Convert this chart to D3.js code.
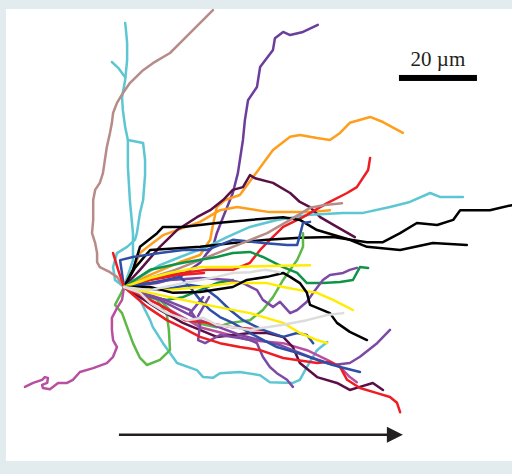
<!DOCTYPE html>
<html><head><meta charset="utf-8">
<script src="https://cdn.jsdelivr.net/npm/d3@7"></script>
<style>html,body{margin:0;padding:0;background:#e2ecee;}svg{display:block;}</style>
</head><body>
<svg id="chart" width="512" height="474"></svg>
<script>
// Cell trajectories, positions in micrometres relative to common start (x right, y up)
const brownTall=[[0,0],[-1.8,2.6],[-3.6,3.8],[-6.2,5.1],[-6.9,6.4],[-6.9,8.7],[-7.4,11.3],[-8.2,13.8],[-7.9,17.2],[-7.9,22.3],[-7.4,24.9],[-6.2,26.7],[-5.4,29.2],[-4.9,32.6],[-4.4,35.9],[-3.6,39.5],[-3.1,42.1],[-2.8,44.6],[-1.8,47.2],[-0.3,49.7],[1.5,52.3],[4.9,55.6],[7.4,57.4],[11.8,60],[14.4,62.6],[16.9,65.1],[20.3,68.5],[22.8,71]];
const brownRight=[[0,0],[6.7,2.3],[13.1,4.4],[19.5,6.9],[27.9,10.3],[36.7,13.8],[42.6,17.2],[47.7,20.3],[51.5,21],[55.9,21.5]];
const cyanTall=[[0,0],[-2.3,1.8],[-2.8,5.1],[-1.8,8.7],[0.8,10.3],[2.8,12.1],[3.3,13.8],[4.1,19],[4.9,22.3],[5.4,28.7],[5.4,32.6],[4.9,36.9],[1,37.7],[0.3,41],[-0.3,45.4],[-0.5,48.7],[0.3,53.1],[0.8,58.2],[0.8,62.6],[0.5,65.9],[0.3,67.7]];
const cyanTall2=[[0,0],[2.3,6.9],[2.3,13.8],[1.5,22.3],[1,30.8],[1,37.7]];
const cyanSpur=[[0.3,53.8],[-1.5,56.2],[-3.1,57.7]];
const cyanLow=[[0,0],[4.1,-3.3],[6.7,-8.5],[7.4,-10.3],[10,-14.4],[11.8,-16.9],[13.6,-19.5],[18.7,-21.3],[20.3,-23.1],[22.8,-23.3],[24.6,-22.1],[29.7,-21.8],[34.9,-22.6],[37.4,-24.4],[43.3,-24.6],[45.1,-23.8],[46.9,-20.5],[49.5,-16.2],[52.1,-14.1]];
const cyanRight=[[0,0],[4.1,2.6],[9.2,5.6],[14.4,7.7],[21.3,10.3],[26.4,12.8],[32.3,15.4],[39.2,17.2],[47.7,18.5],[56.2,19],[61.3,19],[68.2,20.5],[73.3,21.8],[78.5,24.1],[81,23.1],[86.9,23.1]];
const blackA=[[0,0],[2.3,4.4],[4.1,10.3],[8.5,13.8],[10,15.4],[15.1,15.4],[23.8,16.4],[32.3,17.2],[40.8,17.9],[45.1,17.2],[49.5,14.6],[57.9,12.1],[62.3,10.3],[70.8,9.5],[79.2,11.3],[87.9,10.8]];
const blackB=[[0,0],[2.8,4.9],[6.7,9.5],[19.5,10.3],[27.9,11.3],[36.7,12.1],[45.1,12.6],[53.6,12.8],[62.3,11.5],[66.4,11.5],[70.8,13.8],[75.1,16.4],[80.3,15.9],[84.4,17.2],[86.2,19.7],[93.8,19.7],[99.5,21]];
const blackC=[[0,0],[6.7,0],[12.6,-1.5],[19.5,-1.3],[27.9,0],[31.5,1.8],[36.7,2.6],[40.8,3.6],[42.6,2.6],[45.1,1],[46.9,-1.5],[47.7,-4.6],[52.8,-6.7],[54.6,-9.2],[57.9,-11.5],[62.3,-13.6]];
const orangeTall=[[0,0],[6.7,3.1],[14.4,6.4],[19.5,8.2],[22.1,12.1],[22.8,15.9],[23.8,20.5],[25.9,22.3],[29.7,23.6],[33.1,28.2],[38.2,35.1],[42.6,38.5],[45.1,39],[49.5,38.2],[52.8,37.7],[55.4,39.5],[57.9,42.1],[63.1,43.6],[66.4,42.3],[71.5,39.5]];
const orangeB=[[0,0],[2.3,4.4],[4.1,8.7],[6.7,10.8],[10,13.3],[19.5,16.7],[24.6,19.7],[29,20.5],[37.4,19.2],[47.7,19.2],[52.8,19.7]];
const purpleTall=[[0,0],[8.5,1],[14.4,2.6],[19.5,6.2],[21.3,8.7],[22.8,10.3],[23.8,13.8],[25.4,17.9],[27.9,24.1],[29.2,29.2],[30.5,37.7],[31,42.8],[31.8,47.9],[34.1,51.3],[34.9,56.4],[38.2,60.8],[38.7,63.8],[40.8,65.4],[42.6,64.6],[45.9,65.4],[49.7,67.2]];
const maroonA=[[0,0],[4.1,4.4],[9.2,10.3],[13.6,14.6],[18.7,17.9],[22.1,19.7],[25.4,22.3],[27.9,24.9],[30.5,25.6],[32.3,28.7],[33.6,27.9],[38.2,26.7],[42.6,24.1],[45.1,21.8],[47.7,20.5],[50.3,17.9],[54.6,15.4],[59.2,12.8]];
const maroonB=[[0,0],[9.2,-5.9],[15.1,-9.2],[23.8,-12.8],[32.3,-11.8],[36.7,-11.8],[40.8,-12.8],[43.3,-15.4],[45.1,-19.5],[49.5,-23.1],[54.6,-24.6],[57.9,-26.4],[60.5,-25.6],[63.8,-24.6],[66.4,-26.4]];
const redA=[[0,0],[11,3.1],[21.3,4.4],[27.9,4.4],[32.3,6.2],[34.9,9.5],[37.4,12.1],[40.8,15.4],[45.9,17.9],[52.1,21.5],[57.2,24.1],[59.7,25.6],[62.6,30],[63.1,33.1]];
const redB=[[0,0],[5.9,-5.1],[11,-8.5],[15.1,-10.5],[19.5,-12.8],[24.6,-14.4],[29.7,-15.4],[34.9,-16.2],[40.8,-18.2],[49.5,-19.5],[52.8,-19.2],[55.4,-20.5],[57.2,-23.8],[60.5,-25.9],[64.9,-27.2],[68.2,-28.2],[70,-29.7],[70.8,-32.1]];
const redC=[[0,0],[9.2,-4.6],[15.6,-8.5],[21.3,-9.2],[27.9,-10.3],[35.6,-11]];
const redSpike=[[0,0],[-1.5,4.4],[-2.8,8.7]];
const redD=[[0,0],[6.7,1.8],[14.1,3.1],[20.5,3.6]];
const yellowA=[[0,0],[6.7,2.3],[11.8,3.6],[19.5,5.1],[27.9,5.1],[36.7,5.4],[47.7,5.6]];
const yellowB=[[0,0],[11,-0.8],[19.5,0],[27.9,1],[36.7,1],[40.8,0],[45.1,-0.8],[49.5,-1.5],[53.6,-3.3],[58.7,-5.9]];
const yellowC=[[0,0],[6.7,-1.5],[15.1,-3.3],[23.8,-5.1],[32.3,-6.7],[40.8,-9.2],[45.1,-11.8],[49.5,-13.6],[52.1,-14.4]];
const greenA=[[0,0],[6.7,4.4],[15.1,6.2],[23.8,7.7],[27.9,8.7],[32.3,9],[35.6,7.7],[40.8,5.1],[44.4,3.6],[46.9,1],[51,1],[55.4,1.3],[58.7,1.8],[60.5,5.1],[62.6,4.9]];
const greenB=[[0,0],[6.7,-2.6],[11,-3.3],[15.1,-2.6],[19.5,-0.8],[23.8,1],[27.9,1.8]];
const lightGreenA=[[0,0],[-1,-2.1],[-2.3,-4.6],[-0.5,-6.7],[0.8,-10.3],[2.3,-14.4],[4.1,-18.2],[5.9,-20],[9.2,-18.7],[11.8,-16.2],[11.5,-11],[11,-7.2],[8.5,-3.3],[4.1,-1.3]];
const lightGreenB=[[0,0],[4.1,-2.1],[9.2,-3.3],[13.1,-7.2],[18.2,-9.2],[23.8,-10.3],[27.2,-9.2],[32.3,-8.5],[35.6,-5.9],[38.2,-2.6],[40.8,1.8],[42.6,4.4],[44.4,6.9],[45.9,10.3],[45.9,13.8]];
const blueA=[[0,0],[-1,6.9],[2.3,7.7],[9.2,8.7],[15.1,9.5],[21.3,9.5],[27.9,12.1],[35.6,11.3],[41.8,10.8],[44.4,10.8],[45.1,13.3],[45.9,16.4],[47.7,16.7]];
const blueB=[[0,0],[6.7,1],[14.4,2.6],[16.9,0],[19.5,-3.3],[22.1,-5.9],[24.6,-7.7],[27.9,-9.2],[32.3,-11.8],[39.2,-15.4],[44.4,-16.9],[49.5,-18.7],[55.4,-20.5],[60.5,-21.8]];
const blueC=[[0,0],[9.2,-0.8],[16.9,0.5],[20.3,0],[23.8,-2.6],[27.2,-5.9],[30.5,-8.5],[35.6,-11],[40.8,-12.8],[44.4,-11.8],[46.9,-12.3],[48.5,-14.4]];
const purpleC=[[0,0],[9.2,-3.3],[19.5,-8.5],[29.7,-12.3],[40,-14.9],[47.7,-17.9],[53.6,-20],[57.9,-19.5],[60.5,-17.9],[64.9,-14.4],[68.2,-11]];
const purpleD=[[0,0],[11.8,1.8],[19.5,2.3],[27.2,1.8],[30.5,1],[34.1,-0.8],[35.6,-3.3],[38.2,-5.1],[40,-3.8],[42.6,-6.7],[44.4,-5.9],[46.9,-3.8],[48.5,-1.5],[51,1.8],[52.8,3.1],[56.2,3.6],[57.9,4.4],[59.7,4.9]];
const purpleE=[[0,0],[10.5,-3.3],[16.9,-5.9],[19.5,-9.7],[19,-13.6],[20.8,-14.4],[24.6,-12.3],[29.7,-13.1],[32.3,-13.6],[34.1,-14.4],[35.6,-17.9],[37.4,-20.5],[39.2,-22.1],[41.8,-23.8],[43.3,-25.6]];
const purpleF=[[16.9,-6.7],[20.3,-2.6]];
const purpleG=[[19,-7.4],[21.8,-2.6]];
const magentaA=[[0,0],[-0.5,-3.3],[-1.8,-5.4],[-3.1,-7.9],[-3.1,-11],[-2.8,-13.6],[-1.8,-15.4],[-2.8,-17.9],[-4.4,-19.5],[-7.9,-20.8],[-11.3,-21.8],[-13.1,-23.8],[-14.6,-24.6],[-16.9,-24.6],[-19,-26.2],[-20.8,-25.9],[-21,-25.1],[-19.7,-24.6],[-19.5,-23.3],[-20.3,-23.1],[-21,-23.8],[-23.3,-24.6],[-25.4,-25.6]];
const magentaB=[[0,0],[11.8,-5.9],[19.5,-10.3],[27.2,-12.3],[32.3,-13.6],[40.8,-14.4],[46.9,-16.2],[52.1,-18.7],[55.4,-20.5],[57.9,-23.1],[59.7,-24.4]];
const grayA=[[0,0],[4.1,-1.5],[6.7,-4.1],[11,-6.7],[16.2,-8.5],[20.3,-7.9],[23.8,-9.7],[27.9,-10.3],[32.3,-11],[40.8,-9.7],[46.9,-8.5],[52.1,-7.2],[56.2,-6.7]];
const grayB=[[0,0],[6.7,-0.8],[15.1,1],[19.5,1.8],[23.8,2.6],[27.9,3.6],[32.3,3.8],[36.2,4.4],[40,3.8]];

const scaleBarLength=20; // µm
const scaleBarLabel="20 µm";
const scaleBarPos=[70.5,53.6];
const directionArrow=[[-1.3,-37.9],[71.5,-37.9]];

const tracks=[
 [cyanTall,"#5cc6d2"],[cyanTall2,"#5cc6d2"],[cyanSpur,"#5cc6d2"],[brownTall,"#b78b87"],
 [cyanLow,"#5cc6d2"],[purpleTall,"#6b3e9b"],[orangeTall,"#ff9e1b"],[orangeB,"#ff9e1b"],
 [maroonA,"#5a0f47"],[cyanRight,"#5cc6d2"],[redA,"#ee1d24"],[blackA,"#000000"],[blackB,"#000000"],
 [blueA,"#2d4fa6"],[brownRight,"#b78b87"],[lightGreenB,"#5cb947"],[lightGreenA,"#5cb947"],
 [greenA,"#0f9447"],[greenB,"#0f9447"],[magentaA,"#b94fa0"],[magentaB,"#b94fa0"],
 [maroonB,"#5a0f47"],[purpleC,"#7c4aa4"],[purpleE,"#7c4aa4"],[purpleD,"#7c4aa4"],[purpleF,"#7c4aa4"],[purpleG,"#7c4aa4"],
 [redB,"#ee1d24"],[redC,"#ee1d24"],[redSpike,"#ee1d24"],[redD,"#ee1d24"],
 [blueB,"#2d4fa6"],[blueC,"#2d4fa6"],[yellowC,"#ffed00"],[yellowB,"#ffed00"],[yellowA,"#ffed00"],
 [blackC,"#000000"],[grayA,"#dcdcdc"],[grayB,"#dcdcdc"]
];

const svg=d3.select("#chart");
svg.append("rect").attr("x",0).attr("y",0).attr("width",512).attr("height",474).attr("fill","#e2ecee");
svg.append("rect").attr("x",6).attr("y",9).attr("width",506).attr("height",452).attr("fill","#ffffff");

const x=d3.scaleLinear().domain([0,100]).range([124,514]);
const y=d3.scaleLinear().domain([0,100]).range([287,-103]);
const line=d3.line().x(d=>x(d[0])).y(d=>y(d[1]));

svg.append("g").selectAll("path").data(tracks).join("path")
  .attr("d",d=>line(d[0])).attr("fill","none").attr("stroke",d=>d[1])
  .attr("stroke-width",2.5).attr("stroke-linejoin","round").attr("stroke-linecap","round");

// scale bar
const sb=svg.append("g");
sb.append("rect").attr("x",x(scaleBarPos[0])).attr("y",y(scaleBarPos[1])-3)
  .attr("width",x(scaleBarPos[0]+scaleBarLength)-x(scaleBarPos[0])).attr("height",6).attr("fill","#000");
sb.append("text").attr("x",(x(scaleBarPos[0])+x(scaleBarPos[0]+scaleBarLength))/2).attr("y",y(scaleBarPos[1])-12)
  .attr("text-anchor","middle").attr("font-family","'Liberation Serif', serif").attr("font-size",21)
  .attr("fill","#231f20").text(scaleBarLabel);

// direction arrow
const ax0=x(directionArrow[0][0]), ax1=x(directionArrow[1][0]), ay=y(directionArrow[0][1]);
svg.append("line").attr("x1",ax0).attr("x2",ax1-14).attr("y1",ay).attr("y2",ay)
  .attr("stroke","#231f20").attr("stroke-width",2.5);
svg.append("path").attr("d",`M${ax1},${ay} L${ax1-16},${ay-8} L${ax1-16},${ay+8} Z`).attr("fill","#231f20");
</script>
</body></html>
